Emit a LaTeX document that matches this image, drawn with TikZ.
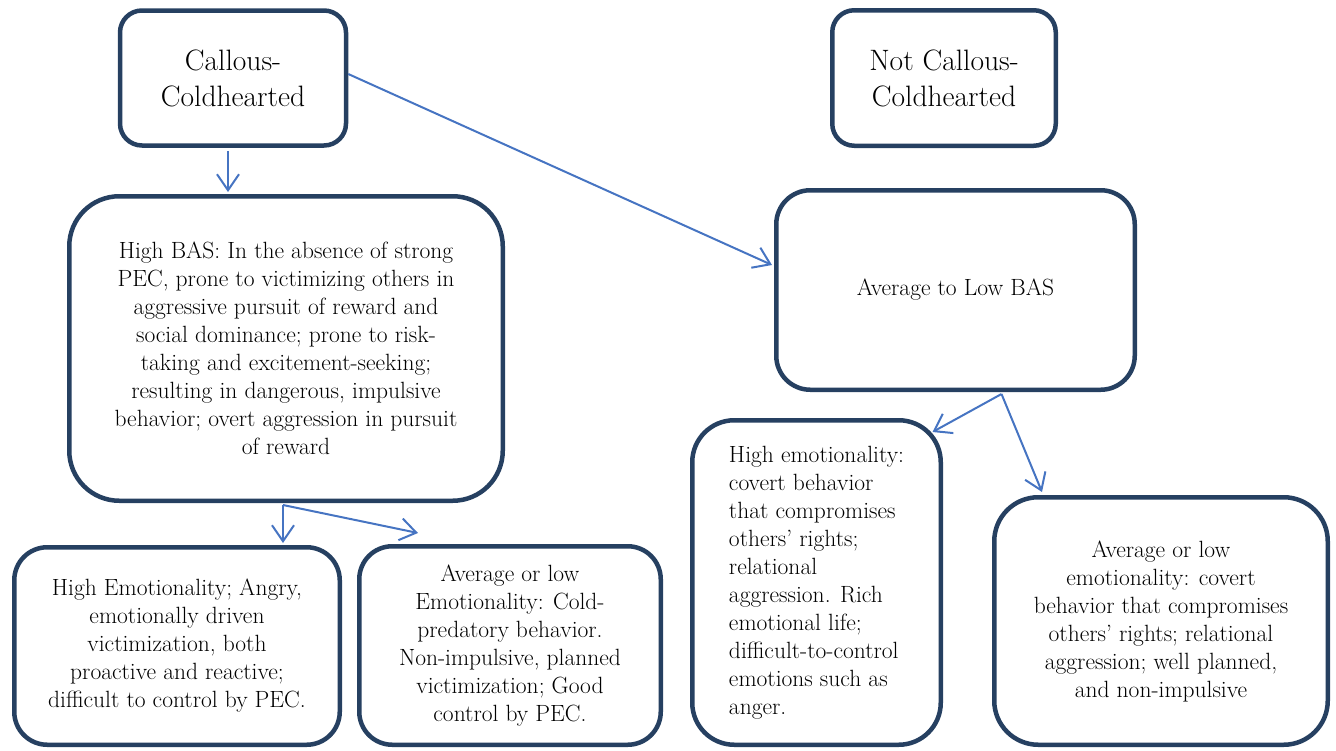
\documentclass[tikz,border=0pt]{standalone}
\usepackage{fontspec}
\usetikzlibrary{arrows.meta,calc}
\definecolor{boxline}{RGB}{38,64,97}
\definecolor{arrowblue}{RGB}{70,116,194}
\tikzset{
  box/.style={draw=boxline, line width=4.5pt, fill=white, rectangle, inner sep=0pt, align=center, font=\rmfamily\fontsize{23.5}{28}\selectfont},
  titlebox/.style={box, font=\rmfamily\fontsize{29.5}{36}\selectfont},
  conn/.style={draw=arrowblue, line width=2pt, -{Straight Barb[length=16pt,width=22pt,line width=2pt]}}
}
\begin{document}
\begin{tikzpicture}[x=1pt,y=-1pt]
\useasboundingbox (0,0) rectangle (1336,750);
\node[titlebox, minimum width=226pt, minimum height=135pt, rounded corners=22pt] (c1) at (233,78) {Callous-\\Coldhearted};
\node[titlebox, minimum width=223.5pt, minimum height=135.5pt, rounded corners=22pt] (c2) at (944,78) {Not Callous-\\Coldhearted};
\node[box, minimum width=433.5pt, minimum height=304.5pt, rounded corners=50pt] (hb) at (286,348.5) {High BAS: In the absence of strong\\PEC, prone to victimizing others in\\aggressive pursuit of reward and\\social dominance; prone to risk-\\taking and excitement-seeking;\\resulting in dangerous, impulsive\\behavior; overt aggression in pursuit\\of reward};
\node[box, minimum width=358.5pt, minimum height=199.5pt, rounded corners=34pt] (abas) at (955.5,290) {Average to Low BAS};
\node[box, minimum width=325.5pt, minimum height=197.5pt, rounded corners=33pt] (bl) at (177,646) {High Emotionality; Angry,\\emotionally driven\\victimization, both\\proactive and reactive;\\difficult to control by PEC.};
\node[box, minimum width=301.5pt, minimum height=198.5pt, rounded corners=33pt] (bm) at (510,645.5) {Average or low\\Emotionality: Cold-\\predatory behavior.\\Non-impulsive, planned\\victimization; Good\\control by PEC.};
\node[box, align=left, minimum width=248.5pt, minimum height=324.5pt, rounded corners=42pt] (rhe) at (816.5,582.5) {High emotionality:\\covert behavior\\that compromises\\others’ rights;\\relational\\aggression. Rich\\emotional life;\\difficult-to-control\\emotions such as\\anger.};
\node[box, minimum width=333.5pt, minimum height=247.5pt, rounded corners=44pt] (rae) at (1161,621) {Average or low\\emotionality: covert\\behavior that compromises\\others’ rights; relational\\aggression; well planned,\\and non-impulsive};
\draw[conn] ($(c1.south)+(-5,3)$) -- ($(hb.north)+(-58,-2)$);
\draw[conn] ($(c1.east)+(0,-4)$) -- ($(abas.west)+(-2,-25)$);
\draw[conn] ($(hb.south)+(-3,2)$) -- ($(bl.north)+(106,-2)$);
\draw[conn] ($(hb.south)+(-3,2)$) -- ($(bm.north)+(-92,-11)$);
\draw[conn] ($(abas.south)+(46,2)$) -- ($(rhe.north)+(116,14)$);
\draw[conn] ($(abas.south)+(46,2)$) -- ($(rae.north)+(-119,-3)$);
\end{tikzpicture}
\end{document}
